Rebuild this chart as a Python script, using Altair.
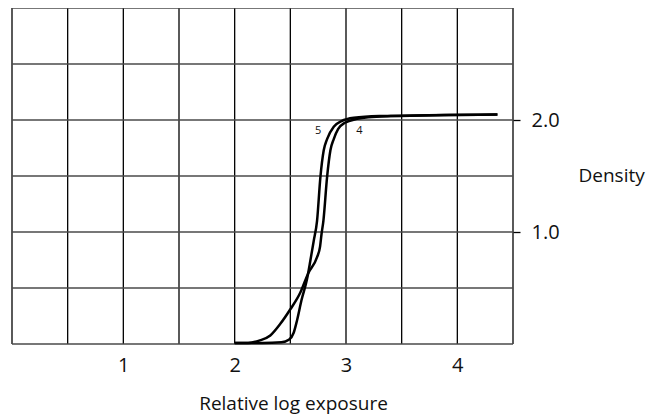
import altair as alt
import pandas as pd

# Characteristic curves (density vs relative log exposure)
curve5_x = [2.00, 2.25, 2.42, 2.49, 2.53, 2.56, 2.60, 2.65, 2.68, 2.71, 2.74, 2.77, 2.80, 2.83, 2.89, 2.96, 3.07, 3.30, 4.36]
curve5_y = [0.01, 0.01, 0.015, 0.04, 0.10, 0.21, 0.39, 0.58, 0.745, 0.92, 1.10, 1.49, 1.73, 1.83, 1.94, 1.99, 2.02, 2.035, 2.05]

curve4_x = [2.00, 2.12, 2.22, 2.32, 2.41, 2.50, 2.59, 2.66, 2.74, 2.767, 2.78, 2.797, 2.83, 2.86, 2.89, 2.93, 2.99, 3.10, 3.20, 3.40, 4.36]
curve4_y = [0.01, 0.01, 0.03, 0.076, 0.18, 0.31, 0.46, 0.63, 0.775, 0.87, 0.98, 1.10, 1.49, 1.73, 1.83, 1.92, 1.975, 2.01, 2.025, 2.035, 2.05]

label_text = ["5", "4"]
label_x = [2.75, 3.12]
label_y = [1.90, 1.90]

x_grid = [0, 0.5, 1, 1.5, 2, 2.5, 3, 3.5, 4, 4.5]
y_grid = [0, 0.5, 1, 1.5, 2, 2.5, 3]
x_ticks = [1, 2, 3, 4]
y_ticks = [1, 2]

FONT = "Open Sans"

curves = pd.concat([
    pd.DataFrame({"curve": "5", "x": curve5_x, "y": curve5_y, "order": range(len(curve5_x))}),
    pd.DataFrame({"curve": "4", "x": curve4_x, "y": curve4_y, "order": range(len(curve4_x))}),
])
labels = pd.DataFrame({"text": label_text, "x": label_x, "y": label_y})

xscale = alt.Scale(domain=[0, 4.5], nice=False, zero=False)
yscale = alt.Scale(domain=[0, 3], nice=False, zero=False)

xaxis = alt.Axis(
    values=x_ticks, ticks=False, domain=False, grid=False, format="d",
    labelFont=FONT, labelFontSize=20, labelColor="#111", labelPadding=11,
    titleFont=FONT, titleFontSize=19, titleFontWeight="normal",
    titleColor="#111", titleX=281, titleY=65, titleAlign="center", titleBaseline="alphabetic",
)
yaxis = alt.Axis(
    orient="right", values=y_ticks, tickSize=7, tickColor="#000", tickWidth=1.3,
    domain=False, grid=False, format=".1f",
    labelFont=FONT, labelFontSize=20, labelColor="#111", labelPadding=11,
    titleFont=FONT, titleFontSize=19, titleFontWeight="normal",
    titleColor="#111", titleAngle=0, titleX=65, titleY=173, titleAlign="left",
    titleBaseline="alphabetic",
)
XT = "Relative log exposure"
YT = "Density"

vgrid = alt.Chart(pd.DataFrame({"x": x_grid})).mark_rule(color="#000000", strokeWidth=1.3).encode(
    x=alt.X("x:Q", scale=xscale, axis=xaxis, title=XT)
)
hgrid = alt.Chart(pd.DataFrame({"y": y_grid})).mark_rule(color="#4a4a4a", strokeWidth=1.5).encode(
    y=alt.Y("y:Q", scale=yscale, axis=yaxis, title=YT)
)

lines = alt.Chart(curves).mark_line(color="black", strokeWidth=2.5, interpolate="monotone").encode(
    x=alt.X("x:Q", scale=xscale, axis=xaxis, title=XT),
    y=alt.Y("y:Q", scale=yscale, axis=yaxis, title=YT),
    detail="curve:N",
    order="order:Q",
)

text = alt.Chart(labels).mark_text(font=FONT, fontSize=11, color="#111", baseline="middle", align="center").encode(
    x=alt.X("x:Q", scale=xscale, axis=xaxis, title=XT),
    y=alt.Y("y:Q", scale=yscale, axis=yaxis, title=YT),
    text="text:N",
)

chart = alt.layer(vgrid, hgrid, lines, text).properties(
    width=501, height=336,
    autosize=alt.AutoSizeParams(type="none"),
    padding={"left": 4, "top": 0, "right": 140, "bottom": 70},
).configure_view(stroke=None)

chart.save("out.html", embed_options={"renderer": "svg", "actions": False})
